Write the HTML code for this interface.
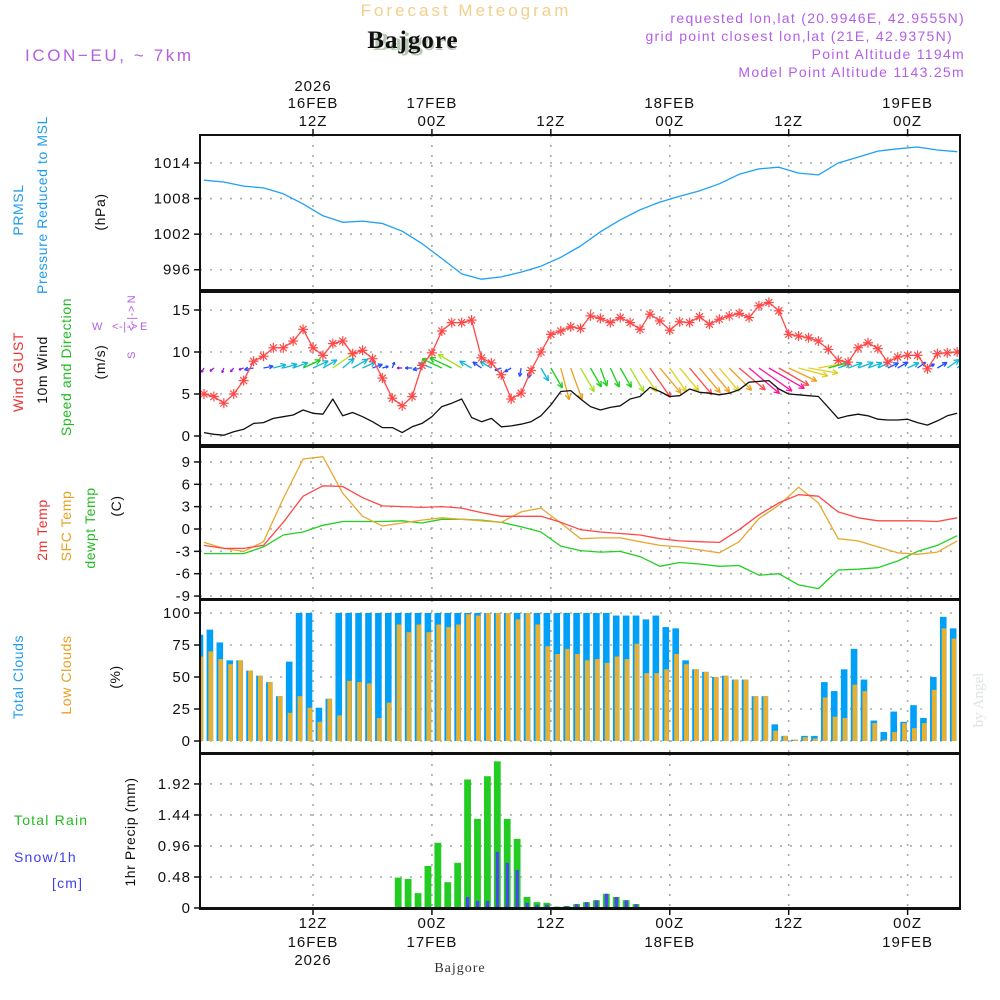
<!DOCTYPE html>
<html><head><meta charset="utf-8"><title>Bajgore meteogram</title>
<style>
html,body{margin:0;padding:0;background:#fff;}
svg{display:block;font-family:"Liberation Sans",sans-serif;}
.ax{font-size:15px;fill:#111;letter-spacing:1px;}
.lab{font-size:14px;letter-spacing:0.6px;}
</style></head>
<body>
<svg id="chart" width="1000" height="1000" viewBox="0 0 1000 1000">
 <text x="466" y="16" text-anchor="middle" font-size="17" fill="#f3cf8c" letter-spacing="3">Forecast Meteogram</text>
 <text x="415" y="50" text-anchor="middle" font-family="Liberation Serif,serif" font-weight="bold" font-size="25" fill="#b8c8b4">Bajgore</text>
 <text x="413" y="48" text-anchor="middle" font-family="Liberation Serif,serif" font-weight="bold" font-size="25" fill="#111" letter-spacing="1">Bajgore</text>
 <text x="25" y="61" font-size="17" fill="#b45ee6" letter-spacing="2.6">ICON−EU, ~ 7km</text>
 <g font-size="14" fill="#b45ee6" letter-spacing="1.3" text-anchor="end">
  <text x="965" y="23">requested lon,lat (20.9946E, 42.9555N)</text>
  <text x="953" y="41">grid point closest lon,lat (21E, 42.9375N)</text>
  <text x="965" y="59">Point Altitude 1194m</text>
  <text x="965" y="77">Model Point Altitude 1143.25m</text>
 </g>
 <!-- left labels -->
 <g class="lab">
  <text transform="translate(23,210) rotate(-90)" text-anchor="middle" fill="#1e9cf0">PRMSL</text>
  <text transform="translate(47,205) rotate(-90)" text-anchor="middle" fill="#1e9cf0">Pressure Reduced to MSL</text>
  <text transform="translate(105,212) rotate(-90)" text-anchor="middle" fill="#111">(hPa)</text>
 </g>
 <g class="lab">
  <text transform="translate(23,372) rotate(-90)" text-anchor="middle" fill="#ee3030">Wind GUST</text>
  <text transform="translate(47,370) rotate(-90)" text-anchor="middle" fill="#111">10m Wind</text>
  <text transform="translate(71,367) rotate(-90)" text-anchor="middle" fill="#22bb22">Speed and Direction</text>
  <text transform="translate(105,362) rotate(-90)" text-anchor="middle" fill="#111">(m/s)</text>
  <g font-size="11" fill="#b45ee6">
   <text x="92" y="330">W</text>
   <text x="112" y="330">&lt;-|-&gt;</text>
   <text x="140" y="330">E</text>
   <text transform="translate(135,318) rotate(-90)" text-anchor="middle">&lt;-|-&gt;</text>
   <text transform="translate(135,299) rotate(-90)" text-anchor="middle">N</text>
   <text transform="translate(135,355) rotate(-90)" text-anchor="middle">S</text>
  </g>
 </g>
 <g class="lab">
  <text transform="translate(47,530) rotate(-90)" text-anchor="middle" fill="#ee3030">2m Temp</text>
  <text transform="translate(71,526) rotate(-90)" text-anchor="middle" fill="#e8a020">SFC Temp</text>
  <text transform="translate(95,528) rotate(-90)" text-anchor="middle" fill="#22bb22">dewpt Temp</text>
  <text transform="translate(121,506) rotate(-90)" text-anchor="middle" fill="#111">(C)</text>
 </g>
 <g class="lab">
  <text transform="translate(23,677) rotate(-90)" text-anchor="middle" fill="#1e9cf0">Total Clouds</text>
  <text transform="translate(71,675) rotate(-90)" text-anchor="middle" fill="#e8a020">Low Clouds</text>
  <text transform="translate(120,677) rotate(-90)" text-anchor="middle" fill="#111">(%)</text>
 </g>
 <g class="lab">
  <text x="14" y="825" fill="#22bb22" letter-spacing="1.2">Total  Rain</text>
  <text x="14" y="862" fill="#4040ee" letter-spacing="1.2">Snow/1h</text>
  <text x="52" y="888" fill="#4040ee" letter-spacing="1.2">[cm]</text>
  <text transform="translate(135,832) rotate(-90)" text-anchor="middle" fill="#111">1hr Precip (mm)</text>
 </g>
 <text transform="translate(983,700) rotate(-90)" text-anchor="middle" font-family="Liberation Serif,serif" font-size="15" fill="#dde4dd">by Angel</text>
 <text x="460" y="972" text-anchor="middle" font-family="Liberation Serif,serif" font-size="14" fill="#333" letter-spacing="1">Bajgore</text>
 <g id="grid"></g>
 <g id="marks"></g>
 <g id="frames"></g>
 <g id="labels"></g>
</svg>
<script>
// ---- data ----
const tickHours = [12, 24, 36, 48, 60, 72];
const tickTimeLabels = ["12Z", "00Z", "12Z", "00Z", "12Z", "00Z"];
const tickDateLabels = ["16FEB", "17FEB", "", "18FEB", "", "19FEB"];
const tickYearLabels = ["2026", "", "", "", "", ""];
const hoursTwo = [1,3,5,7,9,11,13,15,17,19,21,23,25,27,29,31,33,35,37,39,41,43,45,47,49,51,53,55,57,59,61,63,65,67,69,71,73,75,77];
const pressure = [1011.1,1010.8,1010.1,1009.8,1008.8,1007.1,1005.1,1004.0,1004.2,1003.8,1002.5,1000.4,997.9,995.3,994.4,994.8,995.6,996.6,998.1,1000.0,1002.4,1004.4,1006.1,1007.4,1008.4,1009.3,1010.5,1012.1,1013.0,1013.3,1012.3,1012.0,1014.0,1015.0,1016.0,1016.4,1016.7,1016.2,1015.9];
const pressureTicks = [996, 1002, 1008, 1014];
const gust = [5.0,4.7,3.9,5.0,6.6,8.9,9.5,10.5,10.5,11.3,12.7,10.5,9.6,11.0,11.3,9.8,10.2,9.2,6.9,4.5,3.6,4.7,8.4,9.9,12.5,13.5,13.5,13.8,9.3,8.7,7.3,4.4,5.1,7.8,10.0,12.1,12.5,13.0,12.8,14.3,14.0,13.5,14.1,13.5,12.7,14.5,13.7,12.6,13.6,13.5,14.2,13.3,13.9,14.3,14.6,14.1,15.5,15.9,14.9,12.1,11.9,11.7,11.3,10.3,9.0,8.8,10.5,11.1,10.4,8.8,9.4,9.6,9.6,8.0,9.8,9.9,10.0];
const wind = [0.4,0.2,0.1,0.5,0.8,1.5,1.6,2.1,2.3,2.5,3.1,2.7,2.6,4.4,2.4,2.8,2.3,1.7,1.0,1.0,0.4,1.1,1.5,2.3,3.5,3.9,4.4,2.2,1.7,2.1,1.1,1.2,1.4,1.7,2.4,3.7,5.3,5.4,4.4,3.5,3.1,3.4,3.6,4.4,4.7,5.8,5.3,4.7,4.8,5.6,5.2,5.1,4.9,5.1,5.5,6.4,6.5,6.6,5.6,5.0,4.9,4.8,4.7,3.4,2.1,2.4,2.6,2.4,2.0,1.9,1.9,2.0,1.6,1.3,1.8,2.4,2.7];
const windDir = [30,50,20,40,70,80,260,255,255,250,245,245,240,235,230,240,245,250,255,200,90,90,80,110,115,115,120,120,125,120,70,60,10,15,330,330,345,340,330,330,340,335,330,330,325,325,320,325,320,320,320,320,320,315,310,310,305,300,300,295,285,280,260,255,250,250,250,250,245,245,240,245,235,240,240,235,230];
const windTicks = [0, 5, 10, 15];
const t2m = [-2.2,-2.6,-2.6,-2.2,0.9,4.4,5.8,5.7,4.2,3.1,3.0,2.9,3.0,2.8,2.2,1.7,1.7,1.7,0.9,-0.1,-0.4,-0.6,-0.8,-1.3,-1.6,-1.7,-1.8,-0.1,1.9,3.5,4.6,4.4,2.3,1.5,1.1,1.1,1.1,1.0,1.5];
const tsfc = [-1.8,-2.6,-3.0,-1.7,4.1,9.4,9.7,4.8,1.7,0.4,0.8,1.2,1.5,1.3,1.1,0.9,2.3,2.8,0.8,-1.3,-1.2,-1.2,-1.7,-2.2,-2.4,-2.8,-3.2,-1.7,1.4,3.2,5.6,3.5,-1.3,-1.6,-2.4,-3.2,-3.4,-3.1,-1.6];
const tdew = [-3.3,-3.3,-3.3,-2.4,-0.8,-0.4,0.5,1.0,1.0,1.0,1.1,0.8,1.3,1.3,1.2,0.9,0.3,-0.4,-2.3,-2.9,-3.1,-3.0,-3.7,-5.0,-4.5,-4.7,-5.0,-4.9,-6.2,-6.0,-7.5,-8.0,-5.5,-5.4,-5.2,-4.3,-3.0,-2.2,-0.9];
const tempTicks = [-9, -6, -3, 0, 3, 6, 9];
const totalClouds = [83,87,77,63,63,55,51,46,35,62,100,100,26,33,100,100,100,100,100,100,100,100,100,100,100,100,100,100,100,100,100,100,100,100,100,100,100,100,100,100,100,100,98,98,98,95,98,89,88,63,56,54,50,51,48,48,35,35,13,4,1,4,4,46,39,56,72,48,16,7,23,15,28,18,50,97,88];
const lowClouds = [66,70,64,60,63,55,51,46,35,22,35,26,15,33,20,47,46,45,18,30,91,85,91,85,91,89,91,99,98,100,100,100,95,100,91,74,68,72,68,63,64,61,66,64,76,53,53,56,68,60,56,54,50,51,48,48,35,35,8,4,1,3,2,34,19,18,44,39,14,1,7,14,10,14,40,88,80];
const cloudTicks = [0, 25, 50, 75, 100];
const rainStartHour = 21;
const rain = [0.47,0.45,0.23,0.65,1.01,0.40,0.70,1.99,1.38,2.04,2.27,1.38,1.07,0.17,0.09,0.08,0.02,0.03,0.06,0.09,0.12,0.22,0.17,0.12,0.06];
const snow = [0,0,0,0,0,0,0,0.17,0.11,0.11,0.87,0.70,0.59,0.08,0.05,0.05,0.02,0.03,0.06,0.09,0.12,0.22,0.17,0.12,0.06];
const precipTicks = [0, 0.48, 0.96, 1.44, 1.92];

// ---- scales ----
const NS = "http://www.w3.org/2000/svg";
const X0 = 200, X1 = 960;
function X(t){ return 204 + (t - 1) * 9.91; }
const panels = [
 {top:135, bot:290, y:v => 163 + (1014 - v) * 5.93},
 {top:292, bot:445, y:v => 436 - v * 8.4},
 {top:447, bot:599, y:v => 529 - v * 7.45},
 {top:600, bot:753, y:v => 741 - v * 1.28},
 {top:754, bot:909, y:v => 908 - v * 64.6}
];
const gGrid = document.getElementById('grid');
const gMarks = document.getElementById('marks');
const gFrames = document.getElementById('frames');
const gLab = document.getElementById('labels');
function mk(tag, attrs, parent){
  const e = document.createElementNS(NS, tag);
  for (const k in attrs) e.setAttribute(k, attrs[k]);
  parent.appendChild(e);
  return e;
}
function txt(parent, x, y, s, anchor){
  const e = mk('text', {x:x, y:y, 'text-anchor':anchor, class:'ax'}, parent);
  e.textContent = s;
  return e;
}
function lineOf(ts, vs, yf, color, parent, name, w){
  const pts = ts.map((t,i) => X(t).toFixed(1) + ',' + yf(vs[i]).toFixed(1)).join(' ');
  const p = mk('polyline', {points:pts, fill:'none', stroke:color, 'stroke-width':w || 1.4, 'stroke-linejoin':'round'}, parent);
  
  
  return p;
}
const hourly = wind.map((_, i) => i + 1);

// ---- grids, frames, y ticks ----
const tickSets = [pressureTicks, windTicks, tempTicks, cloudTicks, precipTicks];
const tickFmt = [v => String(v), v => String(v), v => String(v), v => String(v), v => v === 0 ? "0" : v.toFixed(2)];
panels.forEach((p, pi) => {
  tickSets[pi].forEach(v => {
    const y = p.y(v);
    const gl = mk('line', {x1:X0, x2:X1, y1:y, y2:y, stroke:'#aaa', 'stroke-width':1.6, 'stroke-dasharray':'2 8'}, gGrid);
    
    
    const tk = mk('line', {x1:X0 - 6, x2:X0, y1:y, y2:y, stroke:'#111', 'stroke-width':1.5}, gFrames);
    
    
    const tl = txt(gLab, 191, y + 5, tickFmt[pi](v), 'end');
    
    
  });
  tickHours.forEach(h => {
    const gv = mk('line', {x1:X(h), x2:X(h), y1:p.top, y2:p.bot, stroke:'#aaa', 'stroke-width':1.6, 'stroke-dasharray':'2 8'}, gGrid);
    
    
  });
  const r = mk('rect', {x:X0, y:p.top, width:X1 - X0, height:p.bot - p.top, fill:'none', stroke:'#111', 'stroke-width':2}, gFrames);
  
  
});
// x tick marks and labels
tickHours.forEach((h, i) => {
  const x = X(h);
  const t1 = mk('line', {x1:x, x2:x, y1:129, y2:135, stroke:'#111', 'stroke-width':1.5}, gFrames);
  
  
  const t2 = mk('line', {x1:x, x2:x, y1:909, y2:915, stroke:'#111', 'stroke-width':1.5}, gFrames);
  
  
  const a = txt(gLab, x, 126, tickTimeLabels[i], 'middle');
  
  
  if (tickDateLabels[i]) {
    const b = txt(gLab, x, 108, tickDateLabels[i], 'middle');
    
    
    const d = txt(gLab, x, 947, tickDateLabels[i], 'middle');
    
    
  }
  if (tickYearLabels[i]) {
    const c = txt(gLab, x, 91, tickYearLabels[i], 'middle');
    
    
    const f = txt(gLab, x, 965, tickYearLabels[i], 'middle');
    
    
  }
  const e = txt(gLab, x, 928, tickTimeLabels[i], 'middle');
  
  
});

// clip
const defs = mk('defs', {}, gMarks);
const cp = mk('clipPath', {id:'plotclip'}, defs);
mk('rect', {x:X0, y:0, width:X1 - X0, height:1000}, cp);
const gm = mk('g', {'clip-path':'url(#plotclip)'}, gMarks);

// ---- pressure ----
lineOf(hoursTwo, pressure, panels[0].y, '#1ea0f5', gm, 'pressure-line', 1.3);

// ---- wind ----
function windColor(s){
  if (s < 1) return '#9a18e0';
  if (s < 2) return '#2250ff';
  if (s < 3) return '#12b8d8';
  if (s < 4) return '#18d018';
  if (s < 4.5) return '#a8e020';
  if (s < 5) return '#e0d020';
  if (s < 5.5) return '#f0a020';
  if (s < 6.3) return '#ff4848';
  return '#ff10a0';
}
const wy = 368;
hourly.forEach((t, i) => {
  const s = wind[i];
  const len = Math.max(5, s * 6.2);
  const to = (windDir[i] + 180) * Math.PI / 180;
  const dx = Math.sin(to), dy = -Math.cos(to);
  const x0 = X(t), x1 = x0 + dx * len, y1 = wy + dy * len;
  const col = windColor(s);
  const g = mk('g', {stroke:col, 'stroke-width':1.3, fill:'none'}, gm);
  
  
  mk('line', {x1:x0, y1:wy, x2:x1, y2:y1}, g);
  const hl = Math.min(6, len * 0.45), a = 0.45;
  [a, -a].forEach(da => {
    const ang = Math.atan2(dy, dx) + Math.PI + da;
    mk('line', {x1:x1, y1:y1, x2:x1 + Math.cos(ang) * hl, y2:y1 + Math.sin(ang) * hl}, g);
  });
});
lineOf(hourly, gust, panels[1].y, '#ff4848', gm, 'gust-line', 1.3);
hourly.forEach((t, i) => {
  const x = X(t), y = panels[1].y(gust[i]);
  const g = mk('g', {stroke:'#ff4848', 'stroke-width':1.2}, gm);
  
  
  mk('line', {x1:x - 5, x2:x + 5, y1:y, y2:y}, g);
  mk('line', {x1:x, x2:x, y1:y - 5, y2:y + 5}, g);
  mk('line', {x1:x - 3.5, x2:x + 3.5, y1:y - 3.5, y2:y + 3.5}, g);
  mk('line', {x1:x - 3.5, x2:x + 3.5, y1:y + 3.5, y2:y - 3.5}, g);
});
lineOf(hourly, wind, panels[1].y, '#111', gm, 'wind-speed-line', 1.3);

// ---- temperatures ----
lineOf(hoursTwo, tdew, panels[2].y, '#22d022', gm, 'dewpoint-line', 1.3);
lineOf(hoursTwo, tsfc, panels[2].y, '#e8a830', gm, 'sfc-temp-line', 1.3);
lineOf(hoursTwo, t2m, panels[2].y, '#ff4848', gm, 't2m-line', 1.3);

// ---- clouds ----
const cy = panels[3].y;
hourly.forEach((t, i) => {
  const xc = X(t) - 4;
  const b = mk('rect', {x:xc - 3.3, y:cy(totalClouds[i]), width:6.6, height:cy(0) - cy(totalClouds[i]), fill:'#00a0f8'}, gm);
  
  
  const l = mk('rect', {x:xc - 1.5, y:cy(lowClouds[i]), width:4.6, height:cy(0) - cy(lowClouds[i]), fill:'#e8b030'}, gm);
  
  
});

// ---- precip ----
const py = panels[4].y;
rain.forEach((v, i) => {
  const xc = X(rainStartHour + i) - 4;
  const r = mk('rect', {x:xc - 3.4, y:py(v), width:6.8, height:py(0) - py(v), fill:'#22cc22'}, gm);
  
  
  if (snow[i] > 0) {
    const s = mk('rect', {x:xc - 1.6, y:py(snow[i]), width:3.4, height:py(0) - py(snow[i]), fill:'#4848f0'}, gm);
    
    
  }
});
const base = mk('line', {x1:X0, x2:X1, y1:908, y2:908, stroke:'#111', 'stroke-width':2}, gm);


</script>
</body></html>
